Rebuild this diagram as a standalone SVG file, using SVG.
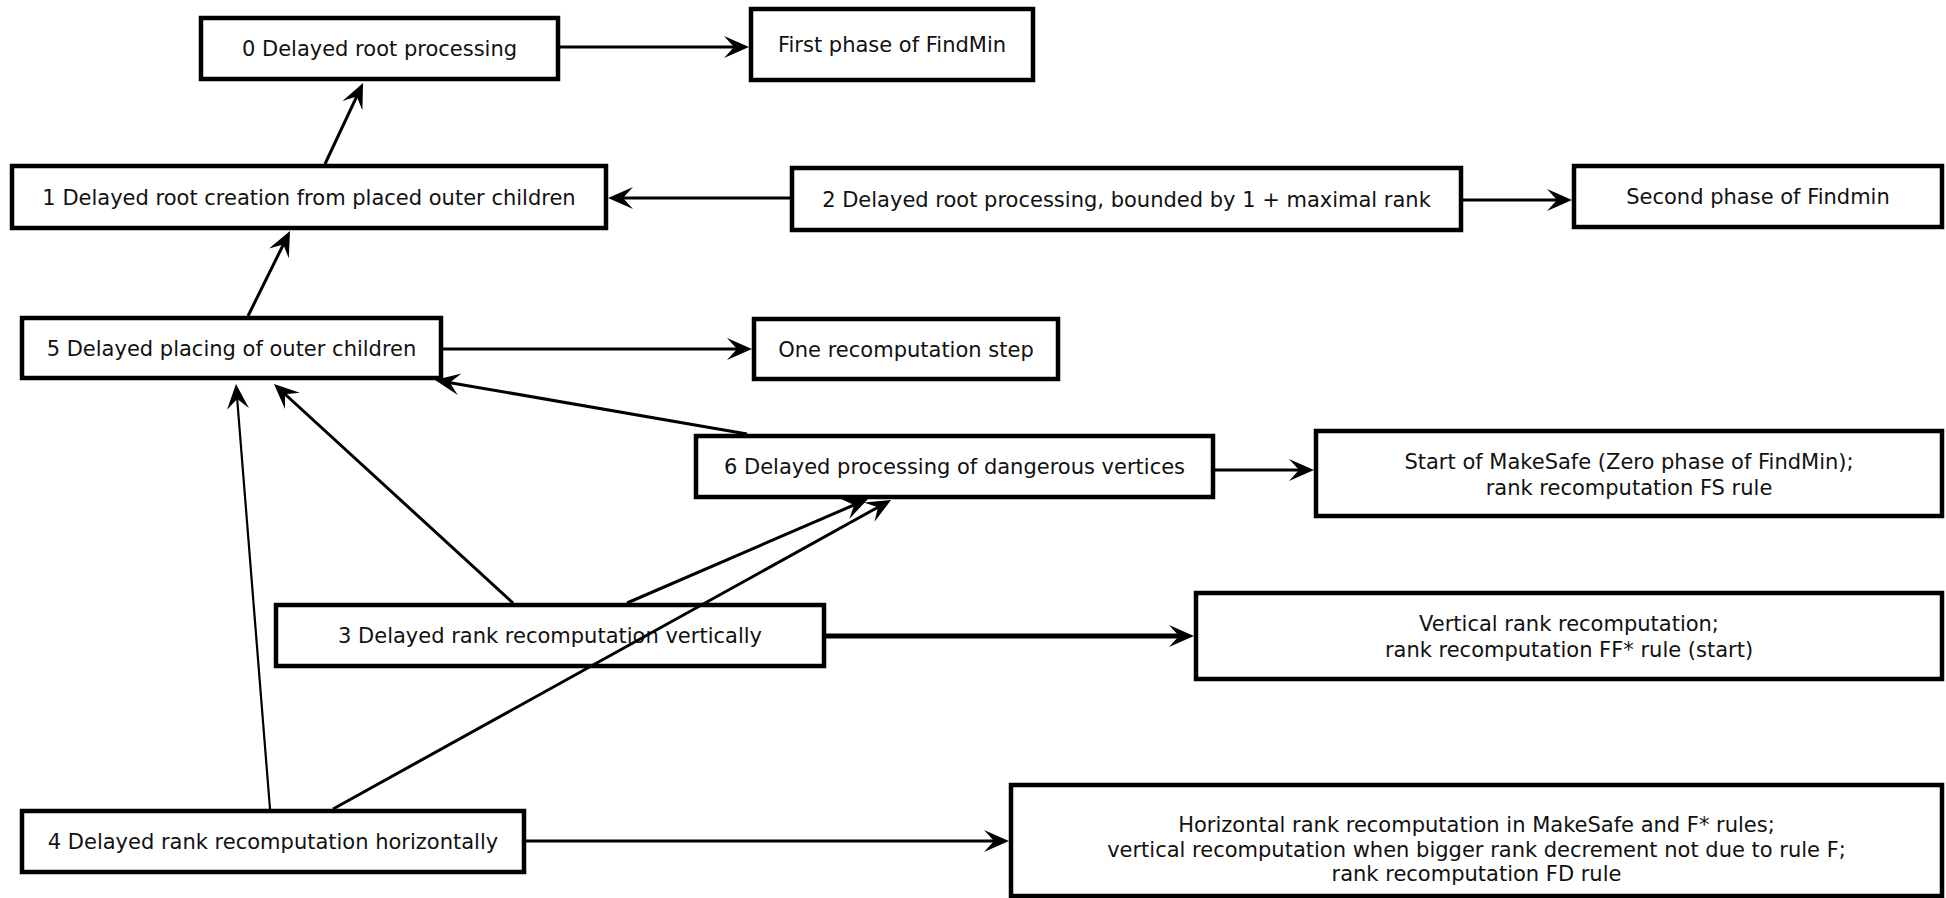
<svg xmlns="http://www.w3.org/2000/svg" width="1946" height="898" viewBox="0 0 1946 898">
  <style>
    .box { fill: #ffffff; stroke: #000000; stroke-width: 4.5; }
    .lbl { font-family: "DejaVu Sans", Verdana, sans-serif; font-size: 21px; fill: #111111; text-anchor: middle; }
    .edge { fill: none; stroke: #000000; stroke-width: 3; marker-end: url(#head); }
    .thin { stroke-width: 2.2; }
    .thick { stroke-width: 5; }
  </style>
  <defs>
    <marker id="head" markerUnits="userSpaceOnUse" markerWidth="30" markerHeight="26" refX="-14" refY="0" orient="auto" overflow="visible">
      <path d="M0,0 L-25,-11 L-15,0 L-25,11 Z" fill="#000000"/>
    </marker>
  </defs>
  <rect width="1946" height="898" fill="#ffffff"/>

  <g id="n0">
    <rect class="box" x="201" y="18" width="357" height="61"/>
    <text class="lbl" x="379.5" y="56">0 Delayed root processing</text>
  </g>
  <g id="first-phase">
    <rect class="box" x="751" y="9" width="282" height="71"/>
    <text class="lbl" x="892" y="52">First phase of FindMin</text>
  </g>
  <g id="n1">
    <rect class="box" x="12" y="166" width="594" height="62"/>
    <text class="lbl" x="309" y="205">1 Delayed root creation from placed outer children</text>
  </g>
  <g id="n2">
    <rect class="box" x="792" y="168" width="669" height="62"/>
    <text class="lbl" x="1126.5" y="207">2 Delayed root processing, bounded by 1 + maximal rank</text>
  </g>
  <g id="second-phase">
    <rect class="box" x="1574" y="166" width="368" height="61"/>
    <text class="lbl" x="1758" y="204">Second phase of Findmin</text>
  </g>
  <g id="n5">
    <rect class="box" x="22" y="318" width="419" height="60"/>
    <text class="lbl" x="231.5" y="356">5 Delayed placing of outer children</text>
  </g>
  <g id="one-step">
    <rect class="box" x="754" y="319" width="304" height="60"/>
    <text class="lbl" x="906" y="357">One recomputation step</text>
  </g>
  <g id="n6">
    <rect class="box" x="696" y="436" width="517" height="61"/>
    <text class="lbl" x="954.5" y="474">6 Delayed processing of dangerous vertices</text>
  </g>
  <g id="makesafe-start">
    <rect class="box" x="1316" y="431" width="626" height="85"/>
    <text class="lbl" x="1629" y="469">Start of MakeSafe (Zero phase of FindMin);</text>
    <text class="lbl" x="1629" y="495">rank recomputation FS rule</text>
  </g>
  <g id="n3">
    <rect class="box" x="276" y="605" width="548" height="61"/>
    <text class="lbl" x="550" y="643">3 Delayed rank recomputation vertically</text>
  </g>
  <g id="vertical">
    <rect class="box" x="1196" y="593" width="746" height="86"/>
    <text class="lbl" x="1569" y="631">Vertical rank recomputation;</text>
    <text class="lbl" x="1569" y="657">rank recomputation FF* rule (start)</text>
  </g>
  <g id="n4">
    <rect class="box" x="22" y="811" width="502" height="61"/>
    <text class="lbl" x="273" y="849">4 Delayed rank recomputation horizontally</text>
  </g>
  <g id="horizontal">
    <rect class="box" x="1011" y="785" width="931" height="111"/>
    <text class="lbl" x="1476.5" y="832">Horizontal rank recomputation in MakeSafe and F* rules;</text>
    <text class="lbl" x="1476.5" y="857">vertical recomputation when bigger rank decrement not due to rule F;</text>
    <text class="lbl" x="1476.5" y="881">rank recomputation FD rule</text>
  </g>

  <!-- connectors drawn last: the 4 -> 6 line runs across box 3 -->
  <g id="connectors">
    <line class="edge" x1="560" y1="47" x2="735" y2="47"/>
    <line class="edge" x1="325" y1="164" x2="357.1" y2="95.7"/>
    <line class="edge" x1="790" y1="198" x2="622" y2="198"/>
    <line class="edge" x1="1463" y1="200" x2="1558" y2="200"/>
    <line class="edge" x1="248" y1="316" x2="283.8" y2="243.6"/>
    <line class="edge" x1="443" y1="349" x2="738" y2="349"/>
    <line class="edge" x1="747" y1="434" x2="448.8" y2="382.4"/>
    <line class="edge" x1="513" y1="603" x2="284.3" y2="393.5"/>
    <line class="edge thin" x1="270" y1="809" x2="237.1" y2="398"/>
    <line class="edge" x1="627" y1="603" x2="855.1" y2="504.5"/>
    <line class="edge" x1="333" y1="809" x2="878.8" y2="506.8"/>
    <line class="edge thick" x1="826" y1="636" x2="1180" y2="636"/>
    <line class="edge" x1="1215" y1="470" x2="1300" y2="470"/>
    <line class="edge" x1="526" y1="841" x2="995" y2="841"/>
  </g>
</svg>
